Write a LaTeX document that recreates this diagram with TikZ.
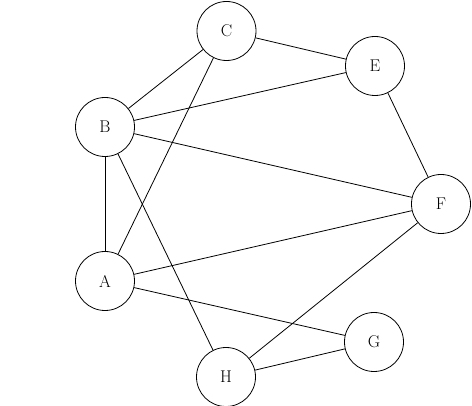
\documentclass[tikz,border=0pt]{standalone}
\begin{document}
\begin{tikzpicture}[x=1pt,y=-1pt,
  vtx/.style={draw,circle,minimum size=59pt,inner sep=0pt,line width=0.8pt,font=\fontsize{17}{20}\selectfont},
  edge/.style={line width=0.8pt}]
\useasboundingbox (0,0) rectangle (472,406);
\node[vtx] (C) at (226.5,31) {C};
\node[vtx] (E) at (375,66) {E};
\node[vtx] (B) at (105,127) {B};
\node[vtx] (F) at (441,204) {F};
\node[vtx] (A) at (105,281) {A};
\node[vtx] (G) at (374,342) {G};
\node[vtx] (H) at (226,377) {H};
\draw[edge] (C) -- (E);
\draw[edge] (C) -- (B);
\draw[edge] (C) -- (A);
\draw[edge] (B) -- (E);
\draw[edge] (B) -- (F);
\draw[edge] (B) -- (A);
\draw[edge] (B) -- (H);
\draw[edge] (E) -- (F);
\draw[edge] (F) -- (A);
\draw[edge] (F) -- (H);
\draw[edge] (A) -- (G);
\draw[edge] (H) -- (G);
\end{tikzpicture}
\end{document}
